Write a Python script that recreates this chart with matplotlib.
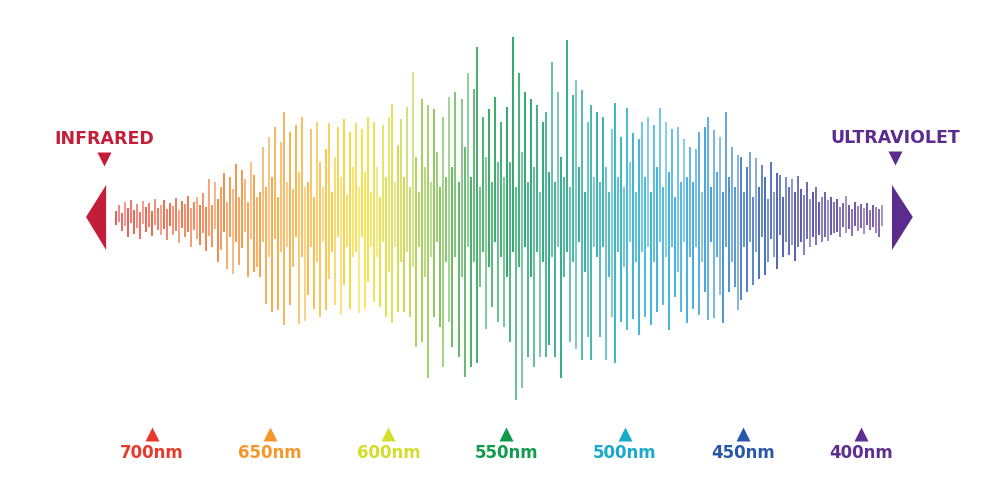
import numpy as np
import matplotlib
matplotlib.use("Agg")
import matplotlib.pyplot as plt
from matplotlib.colors import LinearSegmentedColormap
from matplotlib.patches import Polygon

# ------------------------------------------------------------
# data: amplitude of each spike above / below the centre line
# (spikes run from long wavelength on the left to short on the right)
# ------------------------------------------------------------
up = [
    6, 12, 4, 15, 9, 17, 7, 13, 5, 16, 10, 14, 6, 18, 9, 12,
    17, 8, 14, 11, 19, 7, 16, 13, 21, 9, 15, 20, 12, 24, 10, 38,
    12, 35, 18, 30, 44, 15, 40, 28, 53, 20, 47, 38, 15, 55, 42, 20,
    25, 70, 30, 80, 40, 90, 20, 75, 105, 35, 85, 28, 92, 45, 100, 30,
    35, 88, 20, 95, 55, 30, 68, 94, 25, 60, 90, 40, 98, 22, 85, 50,
    94, 30, 88, 45, 100, 25, 95, 50, 20, 92, 40, 100, 113, 35, 72, 98,
    40, 110, 30, 145, 60, 25, 118, 50, 112, 35, 108, 65, 30, 100, 40, 120,
    50, 125, 35, 118, 70, 144, 40, 128, 170, 30, 100, 60, 108, 35, 120, 55,
    95, 40, 110, 55, 180, 30, 144, 65, 125, 35, 118, 50, 112, 25, 95, 105,
    45, 155, 35, 125, 60, 40, 177, 30, 122, 137, 50, 127, 25, 95, 112, 40,
    105, 35, 100, 50, 25, 88, 114, 40, 80, 30, 109, 55, 84, 25, 78, 95,
    40, 100, 25, 92, 50, 109, 30, 95, 45, 88, 20, 90, 35, 78, 40, 70,
    35, 68, 85, 25, 90, 100, 30, 87, 45, 80, 25, 105, 40, 70, 30, 62,
    60, 25, 50, 65, 20, 59, 30, 52, 40, 18, 55, 25, 44, 42, 20, 40,
    30, 38, 25, 41, 28, 22, 35, 18, 25, 30, 15, 20, 25, 17, 20, 15,
    18, 10, 14, 21, 12, 8, 15, 11, 13, 9, 14, 7, 12, 10, 8, 12,
]
down = [
    8, 5, 14, 9, 20, 6, 17, 11, 22, 7, 15, 10, 19, 8, 13, 18,
    12, 23, 9, 18, 14, 26, 11, 20, 15, 30, 13, 22, 28, 16, 34, 19,
    30, 12, 45, 33, 15, 52, 20, 57, 25, 48, 31, 15, 60, 22, 55, 50,
    60, 25, 87, 40, 95, 22, 93, 35, 108, 30, 88, 50, 20, 107, 40, 104,
    78, 30, 92, 45, 100, 25, 93, 62, 35, 88, 20, 98, 68, 30, 92, 40,
    35, 96, 20, 92, 65, 30, 85, 40, 90, 25, 100, 55, 106, 30, 95, 45,
    95, 35, 100, 50, 130, 30, 125, 60, 161, 40, 100, 25, 110, 150, 45, 105,
    130, 40, 140, 60, 160, 30, 150, 45, 146, 70, 35, 112, 50, 90, 25, 105,
    40, 110, 60, 125, 35, 183, 50, 171, 30, 140, 60, 150, 35, 140, 45, 140,
    128, 40, 140, 30, 161, 60, 35, 125, 45, 132, 25, 143, 55, 120, 143, 30,
    40, 120, 30, 143, 60, 100, 146, 35, 105, 50, 113, 25, 102, 45, 118, 35,
    100, 30, 108, 45, 95, 25, 88, 40, 113, 30, 80, 55, 95, 25, 106, 40,
    92, 30, 98, 45, 75, 103, 25, 101, 40, 78, 106, 30, 75, 45, 70, 93,
    83, 30, 75, 25, 68, 35, 62, 20, 58, 45, 22, 40, 52, 18, 40, 25,
    38, 28, 44, 30, 25, 38, 22, 30, 20, 28, 18, 25, 20, 24, 18, 16,
    15, 20, 10, 16, 12, 19, 9, 14, 11, 17, 8, 13, 10, 16, 20, 9,
]
WL_START = 715.2   # nm, first spike
WL_END = 391.1     # nm, last spike

tick_nm = [700, 650, 600, 550, 500, 450, 400]
tick_labels = ["700nm", "650nm", "600nm", "550nm", "500nm", "450nm", "400nm"]
tick_colors = ["#e8392d", "#f5962a", "#d4dc2c", "#119a4c", "#19aacb", "#2858aa", "#5d2f91"]

# spectrum colours along the wave (position in nm, colour)
spec_nm = [715.2, 690, 670, 650, 630, 610, 595, 580, 565, 550, 530, 515, 500,
           475, 455, 440, 420, 391.1]
spec_col = ["#e8403a", "#ec5a2e", "#f07b2a", "#f59a2b", "#f8b42b", "#f4df20", "#c9d830",
            "#7cbf41", "#2aa44a", "#0c9a50", "#0f9e74", "#14a49a", "#19abc8",
            "#27a5de", "#2d7fcb", "#2b55ad", "#433a9b", "#663c9a"]

# ------------------------------------------------------------
# figure
# ------------------------------------------------------------
fig = plt.figure(figsize=(10, 5), dpi=100)
ax = fig.add_axes([0, 0, 1, 1])
ax.set_xlim(764.3, 341.2)
ax.set_ylim(-283, 217)
ax.axis("off")

up = np.array(up)
down = np.array(down)
wl = np.linspace(WL_START, WL_END, len(up))

pos = np.clip([(WL_START - v) / (WL_START - WL_END) for v in spec_nm], 0, 1)
pos[0], pos[-1] = 0.0, 1.0
cmap = LinearSegmentedColormap.from_list("spec", list(zip(pos, spec_col)))
frac = (WL_START - wl) / (WL_START - WL_END)
alphas = [1.0, 0.75, 0.92, 0.65, 1.0, 0.85]
for i in range(len(wl)):
    ax.vlines(wl[i], -down[i], up[i], color=cmap(frac[i]),
              alpha=alphas[i % len(alphas)], lw=1.2)

# end arrows
ir_col = "#c31d3a"
uv_col = "#5c2b8e"
ax.add_patch(Polygon([[WL_START + 12.7, 0], [WL_START + 4.2, 32], [WL_START + 4.2, -33]],
                     closed=True, color=ir_col, lw=0))
ax.add_patch(Polygon([[WL_END - 13.0, 0], [WL_END - 4.2, 32], [WL_END - 4.2, -33]],
                     closed=True, color=uv_col, lw=0))

# INFRARED / ULTRAVIOLET labels
ax.plot(WL_START + 5.0, 58, marker="v", ms=10, color=ir_col, mec="none")
ax.text(WL_START + 5.0, 78, "INFRARED", color=ir_col, fontsize=12.5,
        fontweight="bold", ha="center", va="center")
ax.plot(WL_END - 5.5, 59, marker="v", ms=10, color=uv_col, mec="none")
ax.text(WL_END - 5.5, 79, "ULTRAVIOLET", color=uv_col, fontsize=12.5,
        fontweight="bold", ha="center", va="center")

# wavelength markers
for nm, lab, c in zip(tick_nm, tick_labels, tick_colors):
    ax.plot(nm, -217, marker="^", ms=10, color=c, mec="none")
    ax.text(nm, -236, lab, color=c, fontsize=12, fontweight="bold",
            ha="center", va="center")

fig.savefig("out.png", dpi=100, facecolor="white")
